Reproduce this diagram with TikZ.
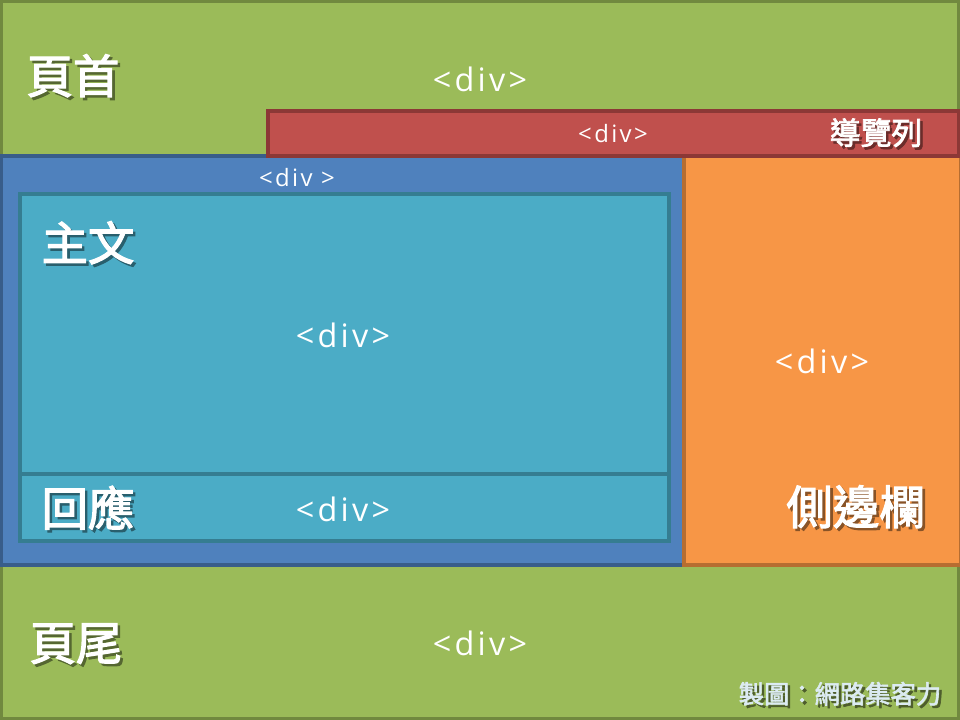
\documentclass[tikz,border=0pt]{standalone}
\usepackage{fontspec}
\setmainfont{Open Sans}
\newfontfamily\divfont{Open Sans}[LetterSpace=10]
\newfontfamily\cjk{Noto Sans CJK TC}[AutoFakeBold=2.5]
\definecolor{hdrgreen}{HTML}{9BBB59}
\definecolor{hdrgreenb}{HTML}{71893F}
\definecolor{navred}{HTML}{C0504D}
\definecolor{navredb}{HTML}{8C3836}
\definecolor{mainblue}{HTML}{4F81BD}
\definecolor{mainblueb}{HTML}{385D8A}
\definecolor{artteal}{HTML}{4BACC6}
\definecolor{arttealb}{HTML}{357D91}
\definecolor{sideorange}{HTML}{F79646}
\definecolor{sideorangeb}{HTML}{B66D31}
\definecolor{credcol}{HTML}{DCEBF2}
\tikzset{
  box/.style={line width=2.2pt},
  divtxt/.style={text=white, inner sep=0pt, font=\divfont\fontsize{23}{27}\selectfont},
  smalldiv/.style={text=white, inner sep=0pt, font=\divfont\fontsize{17}{20}\selectfont},
  big/.style={text=white, inner sep=0pt, font=\cjk\bfseries\fontsize{33}{38}\selectfont},
  mid/.style={text=white, inner sep=0pt, font=\cjk\bfseries\fontsize{22}{26}\selectfont},
  cred/.style={text=credcol, inner sep=0pt, font=\cjk\bfseries\fontsize{18}{22}\selectfont},
}
% text with a drop shadow: #1 shadow colour, #2 text
\newcommand{\shtext}[2]{\makebox[0pt][l]{\kern1.8pt\raisebox{-1.8pt}{\textcolor{#1}{#2}}}#2}
\begin{document}
\begin{tikzpicture}[x=0.025cm, y=-0.025cm]
\useasboundingbox (0,0) rectangle (960,720);
% header
\draw[box, fill=hdrgreen, draw=hdrgreenb] (1,1) rectangle (959,156);
% footer
\draw[box, fill=hdrgreen, draw=hdrgreenb] (1,565) rectangle (959,719);
% main blue
\draw[box, fill=mainblue, draw=mainblueb] (1,156) rectangle (684,565);
% sidebar
\draw[box, fill=sideorange, draw=sideorangeb] (684,156) rectangle (959,565);
\fill[sideorange] (686,158) rectangle (959,563);
% nav
\draw[box, fill=navred, draw=navredb] (268,111) rectangle (959,156);
% article
\draw[box, fill=artteal, draw=arttealb] (20,194) rectangle (669,474);
% reply
\draw[box, fill=artteal, draw=arttealb] (20,474) rectangle (669,541);
% div labels
\node[divtxt] (hdrdiv) at (480,79) {<div>};
\node[smalldiv] (navdiv) at (613,134) {<div>};
\node[smalldiv] (maindiv) at (297,178) {<div >};
\node[divtxt] (artdiv) at (343,335) {<div>};
\node[divtxt] (repdiv) at (343,509) {<div>};
\node[divtxt] (sidediv) at (822,361) {<div>};
\node[divtxt] (ftrdiv) at (480,643) {<div>};
% cjk labels with shadow
\node[big] (hdrlbl) at (73,77) {\shtext{hdrgreen!55!black}{頁首}};
\node[mid] (navlbl) at (876,134) {\shtext{navred!55!black}{導覽列}};
\node[big] (artlbl) at (88,244) {\shtext{artteal!55!black}{主文}};
\node[big] (replbl) at (88,509) {\shtext{artteal!55!black}{回應}};
\node[big] (sidelbl) at (856,508) {\shtext{sideorange!55!black}{側邊欄}};
\node[big] (ftrlbl) at (76,645) {\shtext{hdrgreen!55!black}{頁尾}};
\node[cred] (credit) at (840,695) {\shtext{hdrgreen!50!black}{製圖：網路集客力}};
\end{tikzpicture}
\end{document}
